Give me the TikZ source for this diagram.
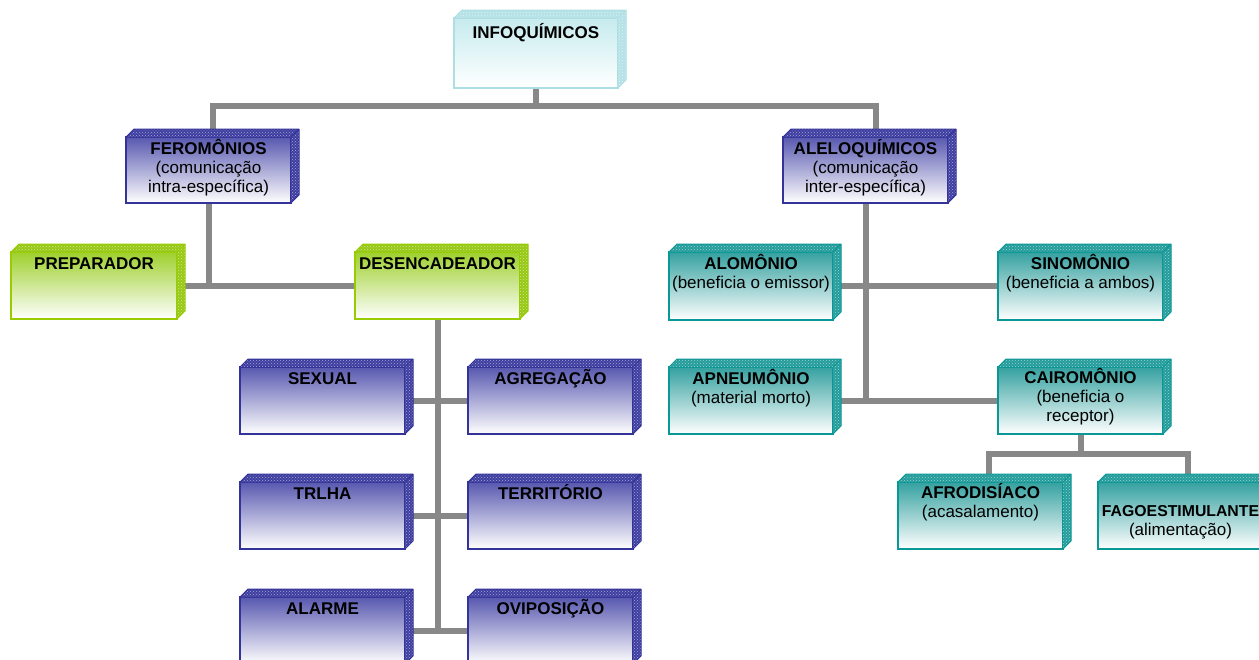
\documentclass[tikz,border=0pt]{standalone}
\usepackage{fontspec}
\setmainfont{Liberation Sans}
\usetikzlibrary{patterns,calc}
\pgfdeclarelayer{background}
\pgfsetlayers{background,main}

\definecolor{infoB}{RGB}{172,222,226}
\definecolor{infoT}{RGB}{198,235,238}
\definecolor{infoS}{RGB}{180,226,230}
\definecolor{bluB}{RGB}{51,51,153}
\definecolor{bluT}{RGB}{88,88,176}
\definecolor{bluS}{RGB}{62,62,160}
\definecolor{grnB}{RGB}{153,204,0}
\definecolor{grnT}{RGB}{158,208,45}
\definecolor{grnS}{RGB}{150,200,20}
\definecolor{teaB}{RGB}{10,152,150}
\definecolor{teaT}{RGB}{52,161,160}
\definecolor{teaS}{RGB}{35,156,155}
\definecolor{connC}{RGB}{136,136,136}

\tikzset{
  frontbox/.style={rectangle, line width=2pt, inner sep=0pt, outer sep=0pt},
  txt/.style={font=\fontsize{17}{19}\selectfont, align=center, inner sep=0pt, anchor=base, text=black},
  conn/.style={draw=connC, line width=6pt},
}

\newcommand\facepath[1]{(#1.north west) -- ++(8,-8) -- ([shift={(8,-8)}]#1.north east) -- ([shift={(8,-8)}]#1.south east) -- (#1.south east) -- (#1.north east) -- cycle}

\newcommand\tdbox[6]{%
  \node[frontbox, draw=#2B, top color=#2T, bottom color=white,
        minimum width={(#5-#3)*1pt}, minimum height={(#6-#4)*1pt}, anchor=north west] (#1) at (#3,#4) {};
  \fill[#2S] \facepath{#1};
  \fill[pattern=crosshatch dots, pattern color=white!55!#2S] \facepath{#1};
  \draw[#2B, line width=1pt, line join=round] (#1.north west) -- ++(8,-8) -- ([shift={(8,-8)}]#1.north east) -- ([shift={(8,-8)}]#1.south east) -- (#1.south east) (#1.north east) -- ++(8,-8);
}

\begin{document}
\begin{tikzpicture}[x=1pt,y=-1pt]
\useasboundingbox (0,0) rectangle (1259,659);
\clip (0,0) rectangle (1259,659);

% boxes
\tdbox{info}{info}{454}{18}{618}{88}
\tdbox{fer}{blu}{126}{137}{291}{203}
\tdbox{alelo}{blu}{783}{137}{948}{203}
\tdbox{prep}{grn}{11}{252}{177}{319}
\tdbox{desen}{grn}{355}{252}{520}{319}
\tdbox{alom}{tea}{669}{252}{833}{320}
\tdbox{sinom}{tea}{998}{252}{1163}{320}
\tdbox{sexual}{blu}{240}{367}{405}{434}
\tdbox{agreg}{blu}{468}{367}{633}{434}
\tdbox{apneu}{tea}{669}{367}{833}{434}
\tdbox{cairo}{tea}{998}{367}{1163}{434}
\tdbox{trlha}{blu}{240}{482}{405}{549}
\tdbox{terr}{blu}{468}{482}{633}{549}
\tdbox{afro}{tea}{898}{482}{1063}{549}
\tdbox{fago}{tea}{1098}{482}{1263}{549}
\tdbox{alarme}{blu}{240}{597}{405}{664}
\tdbox{ovip}{blu}{468}{597}{633}{664}

% texts (anchor = baseline of the last line)
\node[txt] (info-t) at ([yshift=-20pt]info.north) {\textbf{INFOQUÍMICOS}};
\node[txt] (fer-t) at ([yshift=-55pt]fer.north) {\textbf{FEROMÔNIOS}\\(comunicação\\intra-específica)};
\node[txt] (alelo-t) at ([yshift=-55pt]alelo.north) {\textbf{ALELOQUÍMICOS}\\(comunicação\\inter-específica)};
\node[txt] (prep-t) at ([yshift=-17pt]prep.north) {\textbf{PREPARADOR}};
\node[txt] (desen-t) at ([yshift=-17pt]desen.north) {\textbf{DESENCADEADOR}};
\node[txt] (alom-t) at ([yshift=-36pt]alom.north) {\textbf{ALOMÔNIO}\\(beneficia o emissor)};
\node[txt] (sinom-t) at ([yshift=-36pt]sinom.north) {\textbf{SINOMÔNIO}\\(beneficia a ambos)};
\node[txt] (sexual-t) at ([yshift=-17pt]sexual.north) {\textbf{SEXUAL}};
\node[txt] (agreg-t) at ([yshift=-17pt]agreg.north) {\textbf{AGREGAÇÃO}};
\node[txt] (apneu-t) at ([yshift=-36pt]apneu.north) {\textbf{APNEUMÔNIO}\\(material morto)};
\node[txt] (cairo-t) at ([yshift=-54pt]cairo.north) {\textbf{CAIROMÔNIO}\\(beneficia o\\receptor)};
\node[txt] (trlha-t) at ([yshift=-17pt]trlha.north) {\textbf{TRLHA}};
\node[txt] (terr-t) at ([yshift=-17pt]terr.north) {\textbf{TERRITÓRIO}};
\node[txt] (afro-t) at ([yshift=-35pt]afro.north) {\textbf{AFRODISÍACO}\\(acasalamento)};
\node[txt] (fago-t) at ([yshift=-53pt]fago.north) {{\fontsize{15.8}{19}\selectfont\textbf{FAGOESTIMULANTE}}\\(alimentação)};
\node[txt] (alarme-t) at ([yshift=-17pt]alarme.north) {\textbf{ALARME}};
\node[txt] (ovip-t) at ([yshift=-17pt]ovip.north) {\textbf{OVIPOSIÇÃO}};

% connectors
\begin{pgfonlayer}{background}
\draw[conn] (info.south) -- ++(0,18) coordinate (j1);
\draw[conn] ([xshift=4pt]fer.north) |- (j1) -| ([xshift=10pt]alelo.north);
\draw[conn] (fer.south) -- (fer.south |- prep.east);
\draw[conn] (prep.east) -- (desen.west);
\draw[conn] (desen.south) -- (desen.south |- alarme.east);
\draw[conn] (sexual.east) -- (agreg.west);
\draw[conn] (trlha.east) -- (terr.west);
\draw[conn] (alarme.east) -- (ovip.west);
\draw[conn] (alelo.south) -- (alelo.south |- apneu.east);
\draw[conn] (alom.east) -- (sinom.west);
\draw[conn] (apneu.east) -- (cairo.west);
\draw[conn] (cairo.south) -- ++(0,20) coordinate (j2);
\draw[conn] ([xshift=8pt]afro.north) |- (j2) -| ([xshift=7pt]fago.north);
\end{pgfonlayer}
\end{tikzpicture}
\end{document}
